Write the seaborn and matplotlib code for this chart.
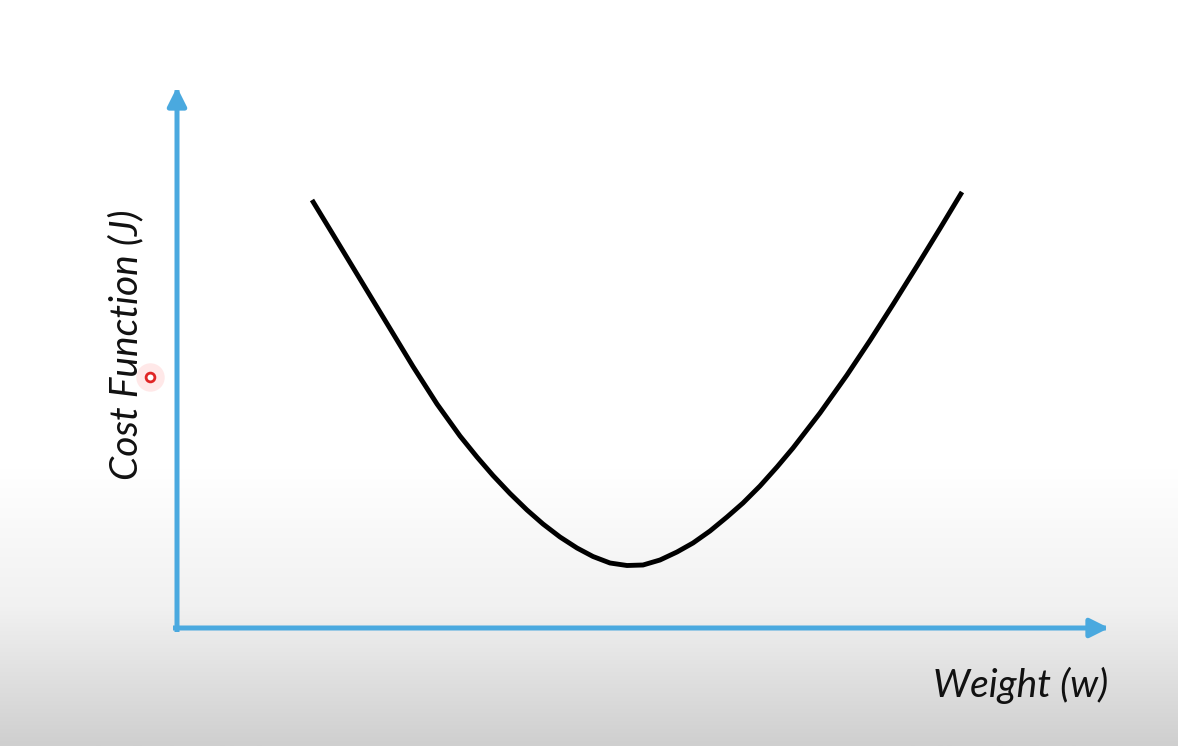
import numpy as np
import matplotlib
matplotlib.use("Agg")
import matplotlib.pyplot as plt
from matplotlib.colors import LinearSegmentedColormap
import seaborn as sns

# curve points (origin at the corner of the blue axes)
weight = [135, 156, 176, 196, 216, 236, 260, 283, 300, 316, 333, 350,
          366, 383, 400, 416, 433, 450, 466, 483, 500, 516, 533, 550,
          566, 583, 600, 616, 643, 670, 693, 716, 740, 763, 785]
cost = [428, 393.5, 360.5, 327.5, 294.5, 261.5, 224, 192, 171, 152.5, 134.5, 118,
        104, 91, 80, 71.5, 65, 62.5, 63, 68, 76, 85, 97, 111,
        125, 142, 161, 180, 215, 253, 287.5, 323.5, 362, 399.5, 436]

x_label = "Weight (w)"
y_label = "Cost Function (J)"

sns.set_style("white")
plt.rcParams['font.family'] = ['Lato', 'DejaVu Sans']

blue = "#4aa9df"

fig = plt.figure(figsize=(11.78, 7.46), dpi=100)
ax = fig.add_axes([0, 0, 1, 1])
ax.set_xlim(-177, 1001)
ax.set_ylim(-118, 628)
ax.axis("off")

# grey fade at the bottom of the slide
fade = LinearSegmentedColormap.from_list("fade", ["#ffffff", "#f1f1f1", "#cfcfcf"])
grad = np.linspace(0, 1, 256).reshape(-1, 1)
ax.imshow(grad, cmap=fade, aspect="auto", extent=(-177, 1001, -118, 160),
          origin="upper", zorder=0)

# axes arrows
arrow = dict(arrowstyle="-|>", color=blue, lw=3.6, mutation_scale=28,
             shrinkA=0, shrinkB=0, capstyle="projecting")
ax.annotate("", xy=(0, 541), xytext=(0, -1.5), arrowprops=arrow, zorder=2)
ax.annotate("", xy=(932, 0), xytext=(-1.5, 0), arrowprops=arrow, zorder=2)

# cost curve
sns.lineplot(x=weight, y=cost, ax=ax, color="black", lw=3.5, sort=False,
             estimator=None, zorder=3)
ax.lines[-1].set_solid_joinstyle("round")
ax.lines[-1].set_solid_capstyle("butt")

ax.text(-51, 283, y_label, rotation=90, ha="center", va="center",
        fontsize=28, style="italic", color="#111111")
ax.text(931, -69, x_label, ha="right", va="baseline",
        fontsize=28, style="italic", color="#111111")

# little red cursor mark next to the y label
ax.scatter([-27], [251], s=420, color="#ff9a9a", alpha=0.22, lw=0, zorder=4)
ax.scatter([-27], [251], s=40, facecolor="white", edgecolor="#e02525",
           lw=2, zorder=5)

fig.savefig("out.png", dpi=100)
